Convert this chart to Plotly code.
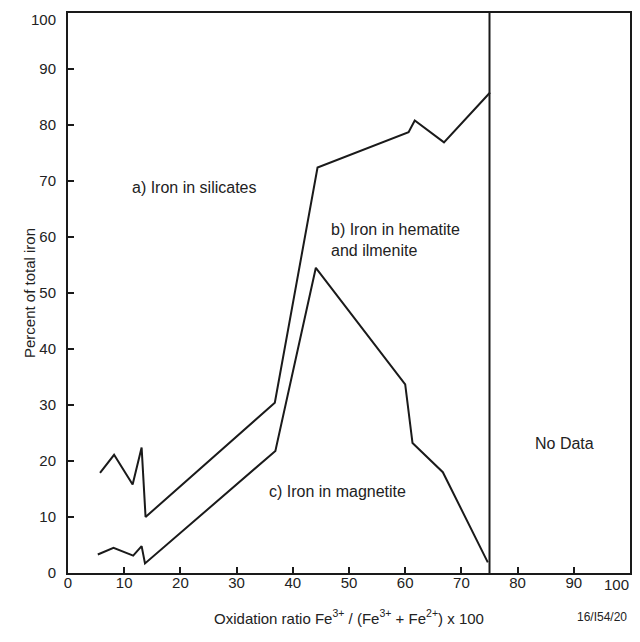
import plotly.graph_objects as go

# Upper curve: boundary between a) silicates and b) hematite+ilmenite
upper_x = [5.7, 8.2, 11.5, 13.1, 13.8, 36.8, 44.4, 60.6, 61.7, 66.9, 75.1]
upper_y = [17.9, 21.1, 15.8, 22.4, 10.0, 30.4, 72.4, 78.7, 80.8, 76.9, 85.8]

# Lower curve: boundary between b) and c) magnetite
lower_x = [5.3, 8.1, 11.6, 13.1, 13.7, 36.9, 44.1, 60.0, 61.3, 66.7, 74.7]
lower_y = [3.3, 4.5, 3.1, 4.8, 1.7, 21.8, 54.5, 33.7, 23.2, 18.0, 1.9]

no_data_x = 75.0
x_ticks = [0, 10, 20, 30, 40, 50, 60, 70, 80, 90, 100]
y_ticks = [0, 10, 20, 30, 40, 50, 60, 70, 80, 90, 100]
# the outermost labels (100) are drawn as annotations so they stay inside the page
x_ticktext = [str(v) for v in x_ticks[:-1]] + [""]
y_ticktext = [str(v) for v in y_ticks[:-1]] + [""]

FONT = "Liberation Sans, Arial, sans-serif"
INK = "#1a1a1a"
TXT = "#222"

fig = go.Figure()
for xs, ys in [(upper_x, upper_y), (lower_x, lower_y), ([no_data_x, no_data_x], [0, 100])]:
    fig.add_trace(go.Scatter(x=xs, y=ys, mode="lines",
                             line=dict(color=INK, width=2), showlegend=False,
                             hoverinfo="skip"))

ann = [
    dict(x=11.0, y=68.9, text="a) Iron in silicates", xanchor="left", yanchor="middle"),
    dict(x=46.4, y=59.5, text="b) Iron in hematite<br>and ilmenite", xanchor="left",
         yanchor="middle", align="left"),
    dict(x=35.4, y=14.6, text="c) Iron in magnetite", xanchor="left", yanchor="middle"),
    dict(x=88.3, y=23.2, text="No Data", xanchor="center", yanchor="middle"),
]
for a in ann:
    fig.add_annotation(**a, showarrow=False, font=dict(family=FONT, size=16, color=TXT))

# last tick labels
fig.add_annotation(x=x_ticks[-1], y=0, xref="x", yref="paper", text=str(x_ticks[-1]),
                   showarrow=False, xanchor="right", yanchor="top", xshift=1, yshift=-1,
                   font=dict(family=FONT, size=15, color=TXT))
fig.add_annotation(x=0, y=y_ticks[-1], xref="paper", yref="y", text=str(y_ticks[-1]),
                   showarrow=False, xanchor="right", yanchor="top", xshift=-10, yshift=4,
                   font=dict(family=FONT, size=15, color=TXT))

fig.add_annotation(x=0.998, y=-0.079, xref="paper", yref="paper", text="16/I54/20",
                   showarrow=False, xanchor="right", yanchor="middle",
                   font=dict(family=FONT, size=12, color=TXT))

axis_common = dict(range=[0, 100], ticks="inside", ticklen=6, tickwidth=1.5,
                   tickcolor=INK, showline=True, linecolor=INK, linewidth=2,
                   mirror=True, showgrid=False, zeroline=False, automargin=False,
                   tickfont=dict(family=FONT, size=15, color=TXT))

fig.update_xaxes(**axis_common, tickvals=x_ticks, ticktext=x_ticktext, ticklabelstandoff=-5,
                 title=dict(text="Oxidation ratio Fe<sup>3+</sup> / (Fe<sup>3+</sup> + Fe<sup>2+</sup>) x 100",
                            font=dict(family=FONT, size=15, color=TXT), standoff=23))
fig.update_yaxes(**axis_common, tickvals=y_ticks, ticktext=y_ticktext, ticklabelstandoff=7,
                 title=dict(text="Percent of total iron",
                            font=dict(family=FONT, size=15, color=TXT), standoff=0))

# The page body has an 8px margin on every side; the figure is sized so the
# page does not overflow the 640x642 window (no scrollbars).
fig.update_layout(width=632, height=626, plot_bgcolor="white", paper_bgcolor="white",
                  margin=dict(l=60, r=10, t=5, b=61))
fig.write_html("out.html")
